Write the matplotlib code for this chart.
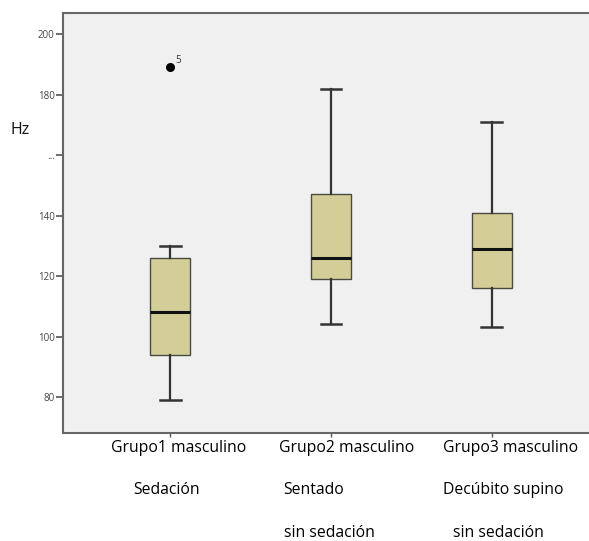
import matplotlib
matplotlib.use("Agg")
import matplotlib.pyplot as plt

groups = ["Grupo1", "Grupo2", "Grupo3"]
whislo = [79, 104, 103]
q1 = [94, 119, 116]
med = [108, 126, 129]
q3 = [126, 147, 141]
whishi = [130, 182, 171]
fliers = [[189], [], []]
flier_labels = ["5"]
yticks = [80, 100, 120, 140, 160, 180, 200]
ytick_labels = ["80", "100", "120", "140", "...", "180", "200"]
line1 = ["Grupo1 masculino", "Grupo2 masculino", "Grupo3 masculino"]
line2 = ["Sedación", "Sentado", "Decúbito supino"]
line3 = ["", "sin sedación", "sin sedación"]

plt.rcParams['font.family'] = ['Open Sans', 'DejaVu Sans']

fig = plt.figure(figsize=(5.89, 5.41), dpi=100)
ax = fig.add_axes([63/589, 1-433/541, 1-63/589+0.01, (433-13)/541])
ax.set_facecolor('#f0f0f0')

stats = []
for i in range(3):
    stats.append(dict(med=med[i], q1=q1[i], q3=q3[i], whislo=whislo[i],
                      whishi=whishi[i], fliers=fliers[i], label=groups[i]))

ax.bxp(stats, positions=[1, 2, 3], widths=0.25, capwidths=0.13,
       patch_artist=True, showfliers=True,
       boxprops=dict(facecolor='#d3ce98', edgecolor='#4a4a40', linewidth=1.0),
       medianprops=dict(color='#111111', linewidth=2.2),
       whiskerprops=dict(color='#333333', linewidth=1.6),
       capprops=dict(color='#333333', linewidth=1.8),
       flierprops=dict(marker='o', markerfacecolor='black', markeredgecolor='black',
                       markersize=5.5))

ax.annotate(flier_labels[0], xy=(1, fliers[0][0]), xytext=(4, 3),
            textcoords='offset points', fontsize=7, color='#333333')

ax.set_xlim(1 - 106/159, 3 + 102/159)
ax.set_ylim(68.1, 207)
ax.set_yticks(yticks)
ax.set_yticklabels(ytick_labels, fontsize=7, color='#444444')
ax.set_xticks([1, 2, 3])
ax.set_xticklabels([])
ax.tick_params(axis='y', length=5, width=1.2, color='#555555', pad=1)
ax.tick_params(axis='x', length=3, width=1, color='#555555')
for s in ['left', 'bottom', 'top']:
    ax.spines[s].set_color('#666666')
    ax.spines[s].set_linewidth(1.5)
ax.spines['right'].set_visible(False)

fig.text(10/589, 1-130/541, "Hz", fontsize=11.5, va='center', ha='left', color='#111111')

x1 = [111, 279, 443]
x2 = [133, 283, 443]
x3 = [0, 284, 453]
for i in range(3):
    fig.text(x1[i]/589, 1-448/541, line1[i], fontsize=11.3, va='center', ha='left')
    fig.text(x2[i]/589, 1-490/541, line2[i], fontsize=11.3, va='center', ha='left')
    if line3[i]:
        fig.text(x3[i]/589, 1-533/541, line3[i], fontsize=11.3, va='center', ha='left')

fig.savefig("out.png", dpi=100)
